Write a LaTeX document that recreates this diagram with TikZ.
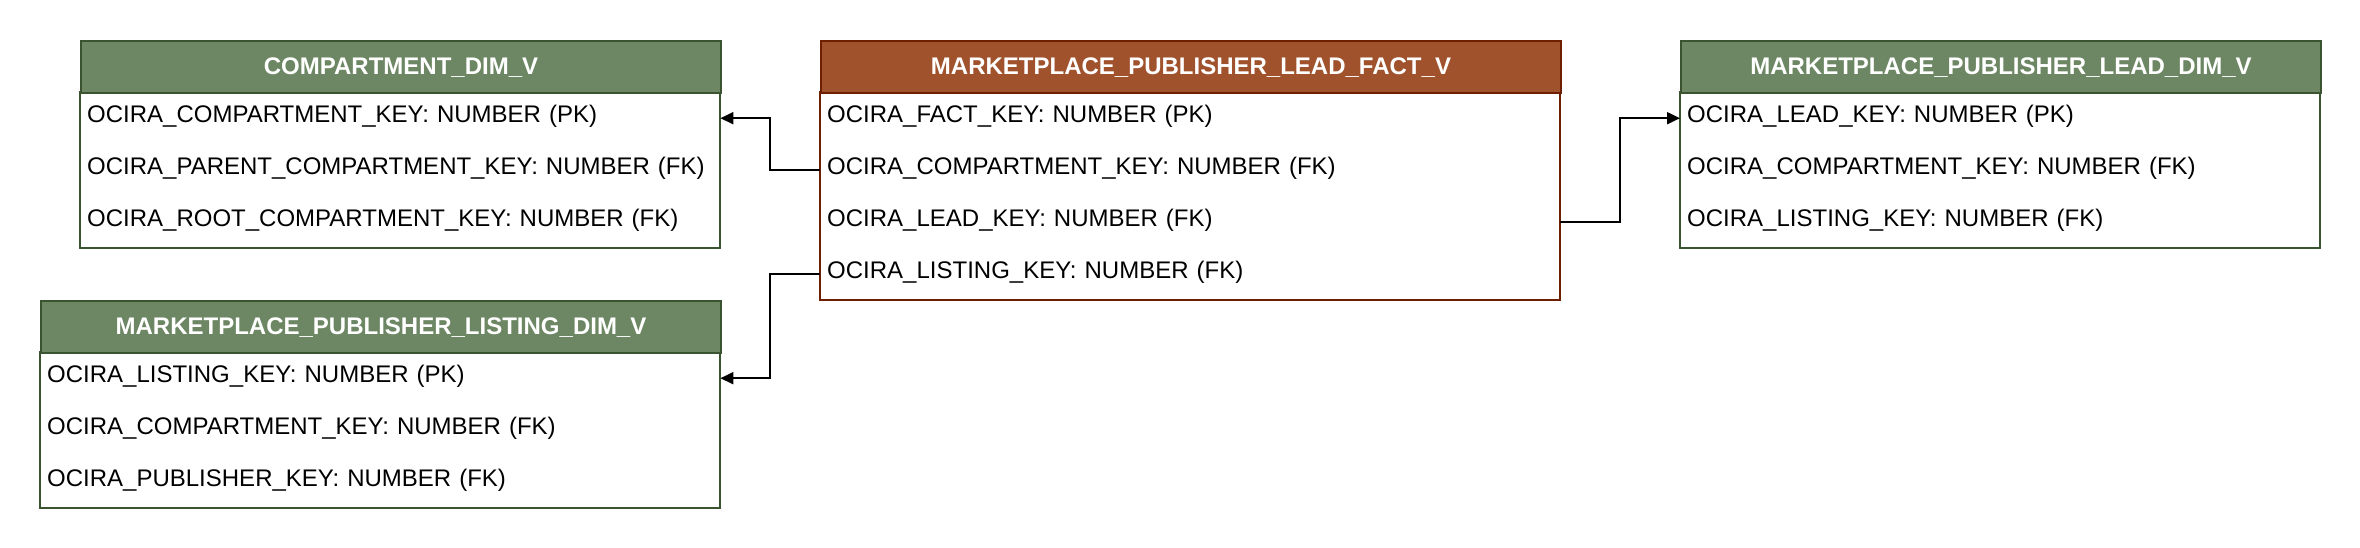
\documentclass[tikz,border=0pt]{standalone}
\usepackage{fontspec}
\setmainfont{Liberation Sans}
\usetikzlibrary{arrows.meta}
\definecolor{dimfill}{HTML}{6D8764}
\definecolor{dimline}{HTML}{3A5431}
\definecolor{factfill}{HTML}{A0522D}
\definecolor{factline}{HTML}{6D1F00}
\tikzset{
  tablehead/.style={draw, line width=2pt, inner sep=0pt, minimum height=52pt, text height=17.2pt, text depth=2.4pt, anchor=north west, text=white, font=\fontsize{24pt}{28pt}\selectfont\bfseries},
  field/.style={inner xsep=7pt, inner ysep=0pt, minimum height=52pt, text height=17.5pt, text depth=9pt, anchor=north west, align=left, font=\fontsize{24pt}{28pt}\selectfont},
  link/.style={draw, line width=2pt, -{Triangle[length=13pt,width=12pt]}}
}
\begin{document}
\begin{tikzpicture}[x=1pt, y=-1pt]
\useasboundingbox (0,0) rectangle (2360,548);
% COMPARTMENT_DIM_V
\node[field, text width=626pt] (c1) at (80,92) {OCIRA\_COMPARTMENT\_KEY: NUMBER (PK)};
\node[field, text width=626pt] (c2) at (80,144) {OCIRA\_PARENT\_COMPARTMENT\_KEY: NUMBER (FK)};
\node[field, text width=626pt] (c3) at (80,196) {OCIRA\_ROOT\_COMPARTMENT\_KEY: NUMBER (FK)};
\draw[dimline, line width=2pt] (c1.north west) rectangle (c3.south east);
\node[tablehead, fill=dimfill, draw=dimline, minimum width=640pt] (c) at (80,40) {COMPARTMENT\_DIM\_V};
% MARKETPLACE_PUBLISHER_LISTING_DIM_V
\node[field, text width=666pt] (l1) at (40,352) {OCIRA\_LISTING\_KEY: NUMBER (PK)};
\node[field, text width=666pt] (l2) at (40,404) {OCIRA\_COMPARTMENT\_KEY: NUMBER (FK)};
\node[field, text width=666pt] (l3) at (40,456) {OCIRA\_PUBLISHER\_KEY: NUMBER (FK)};
\draw[dimline, line width=2pt] (l1.north west) rectangle (l3.south east);
\node[tablehead, fill=dimfill, draw=dimline, minimum width=680pt] (l) at (40,300) {MARKETPLACE\_PUBLISHER\_LISTING\_DIM\_V};
% MARKETPLACE_PUBLISHER_LEAD_FACT_V
\node[field, text width=726pt] (f1) at (820,92) {OCIRA\_FACT\_KEY: NUMBER (PK)};
\node[field, text width=726pt] (f2) at (820,144) {OCIRA\_COMPARTMENT\_KEY: NUMBER (FK)};
\node[field, text width=726pt] (f3) at (820,196) {OCIRA\_LEAD\_KEY: NUMBER (FK)};
\node[field, text width=726pt] (f4) at (820,248) {OCIRA\_LISTING\_KEY: NUMBER (FK)};
\draw[factline, line width=2pt] (f1.north west) rectangle (f4.south east);
\node[tablehead, fill=factfill, draw=factline, minimum width=740pt] (f) at (820,40) {MARKETPLACE\_PUBLISHER\_LEAD\_FACT\_V};
% MARKETPLACE_PUBLISHER_LEAD_DIM_V
\node[field, text width=626pt] (d1) at (1680,92) {OCIRA\_LEAD\_KEY: NUMBER (PK)};
\node[field, text width=626pt] (d2) at (1680,144) {OCIRA\_COMPARTMENT\_KEY: NUMBER (FK)};
\node[field, text width=626pt] (d3) at (1680,196) {OCIRA\_LISTING\_KEY: NUMBER (FK)};
\draw[dimline, line width=2pt] (d1.north west) rectangle (d3.south east);
\node[tablehead, fill=dimfill, draw=dimline, minimum width=640pt] (d) at (1680,40) {MARKETPLACE\_PUBLISHER\_LEAD\_DIM\_V};

\path[link] (f2.west) -- ++(-50,0) |- (c1.east);
\path[link] (f4.west) -- ++(-50,0) |- (l1.east);
\path[link] (f3.east) -- ++(60,0) |- (d1.west);
\end{tikzpicture}
\end{document}
